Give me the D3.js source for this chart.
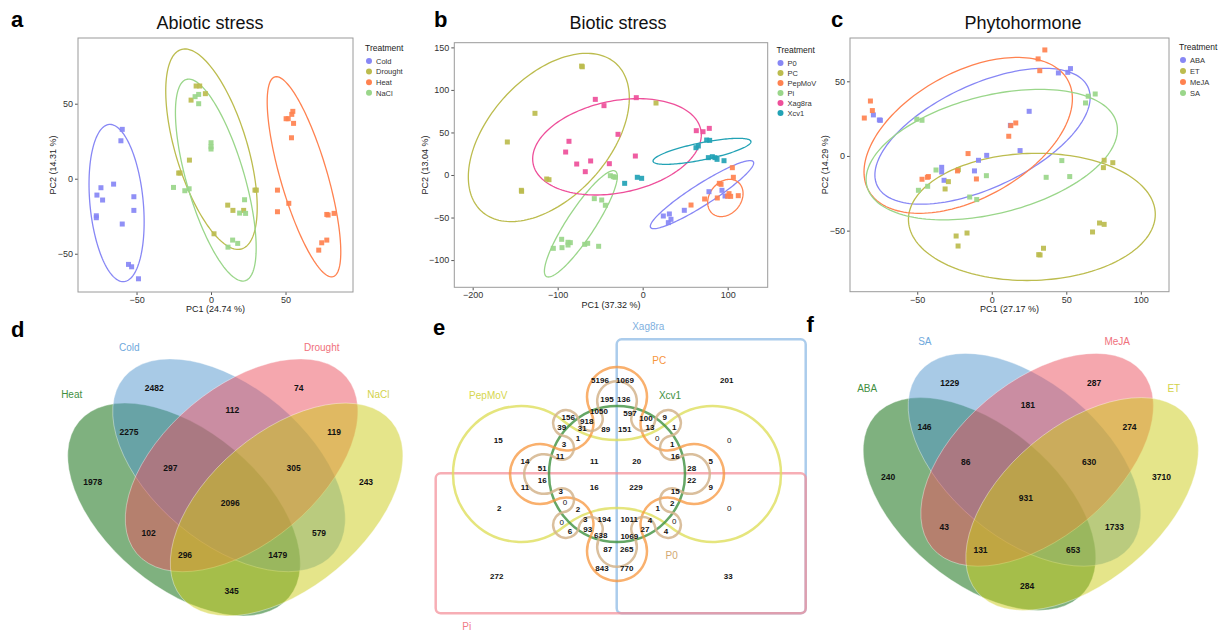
<!DOCTYPE html>
<html>
<head>
<meta charset="utf-8">
<script src="https://cdn.jsdelivr.net/npm/d3@7"></script>
<style>
  body { margin: 0; background: #fff; }
  svg { font-family: "Liberation Sans", Arial, Helvetica, sans-serif; }
</style>
</head>
<body>
<svg id="fig" width="1220" height="631"></svg>
<script>
// ---------- data: PCA panels ----------
// each point is [PC1, PC2]; ellipses are [cx, cy, rx, ry, tilt] in data units
const abioticGroups = ["Cold", "Drought", "Heat", "NaCl"];
const coldPts = [[-59.6,32.9],[-60.5,25.3],[-65.4,-3.6],[-73.9,-6],[-76.6,-10.9],[-72.8,-14.2],[-77,-24.7],[-77,-26],[-59.6,-30.2],[-51.8,-12],[-51.8,-21.1],[-55.4,-57.1],[-53.3,-58.7],[-48.7,-66.7]];
const droughtPts = [[-14.5,12.4],[-21.7,3.8],[-20.8,3.8],[-13.4,52.4],[-10,61.8],[-7.6,61.8],[-3.8,56.7],[29.5,-7.6],[30.4,-7.6],[11.2,-17.6],[14.7,-21.1],[21.9,-21.1],[2,-36.7]];
const heatPts = [[50.4,40],[51.8,40],[54.2,42.9],[54.9,44.9],[55.4,36.9],[54,27.3],[44.6,-7.6],[44.6,-22],[52.2,-16.4],[77.7,-23.8],[78.6,-24.2],[82.6,-23.1],[74.3,-42.7],[77.7,-40.9],[72.3,-47.6]];
const naclPts = [[-10.7,54.7],[-8.3,56.2],[-8.3,50],[0,24],[0,21.3],[0,19.8],[-25.2,-5.8],[-17.6,-8],[-14.7,-6.7],[22.5,-14],[19.2,-22.9],[23.2,-23.1],[14.5,-40.9],[17.9,-43.1],[11.4,-45.6]];
const abioticEllipses = [[-63.4,-16.2,18.5,52.4,-0.24],[0.3,19.7,30.7,66.8,-0.58],[62.4,1.3,24.7,66.7,-0.75],[3.2,-0.9,27.1,67.3,-0.67]];

const bioticGroups = ["P0", "PC", "PepMoV", "Pi", "Xag8ra", "Xcv1"];
const p0Pts = [[24.3,-48.2],[31.4,-45.8],[33.3,-52.1],[30.2,-56],[49,-41.5],[78,-19.6],[93.3,-18],[96.9,-24.7]];
const pcPts = [[-71.8,128],[-71,127.2],[-126.7,72.5],[-159.2,38.8],[-142.7,-18],[-142.4,-19.2],[-112.9,-4.7],[-110.2,-5.5],[15.7,84.6]];
const pepmovPts = [[56.9,-35.3],[72.9,-28.2],[87.8,-27],[90.2,-9.8],[92.2,-11],[101.6,-21.9],[103.5,-25.1],[105.5,8.6],[106.7,-2.7],[112.5,-24.3],[100,-25]];
const piPts = [[-38,-0.8],[-34.5,-2],[-32.5,-2.7],[-56.9,-27.8],[-48.2,-29.4],[-43.9,-35.6],[-95.3,-75.6],[-105.1,-86.2],[-94.9,-85.4],[-87.8,-79.1],[-85.1,-79.5],[-87.8,-82.3],[-68.2,-81.5],[-64.7,-80.3],[-51.8,-83.8]];
const xag8raPts = [[-55.7,88.9],[-45.5,81.5],[-7.5,90.9],[-29,47.8],[-86.7,39.6],[-90.6,27],[-77.6,12.9],[-67.5,3.9],[-61.2,16.5],[-39.2,13.3],[-8.6,22.3],[63.1,52.1],[71,50.9],[78.4,54.8]];
const xcv1Pts = [[62.7,32.1],[65.5,34.1],[75.3,41.1],[78.8,40.7],[77.3,20.4],[82,21.5],[85.1,20.4],[87.5,18.4],[95.7,16.8],[-6.3,-2.7],[-1.2,-3.9],[-21.2,-9.8]];
const bioticEllipses = [[69.8,-23.1,60.8,40,0.93],[-110.4,44.1,94.7,98.9,0.47],[97.3,-27,20.8,21.9,0.24],[-72.7,-57.4,42.9,62.5,0.89],[-30.2,33.1,99.2,56.6,0.25],[69.8,27.8,57.6,15.3,0.74]];

const hormoneGroups = ["ABA", "ET", "MeJA", "SA"];
const abaPts = [[-79.4,27.5],[-75.4,24.1],[-74.7,23.9],[25.1,29.9],[44.7,55.6],[51,56],[52.8,58.5],[12.5,20.5],[19,3.6],[-3.4,0.4],[-8.9,-2.9],[-11.6,-10],[-33.6,-7.6],[-33.6,-10.7],[-32,-16.3]];
const etPts = [[75.4,-2.9],[81.2,-4.5],[74.9,-7.8],[-22.4,-9.2],[-29.1,-17.2],[-31.3,-22.1],[-23.9,-53.6],[-16.6,-51.6],[-22.6,-60.3],[72.3,-44.9],[75.4,-45.8],[67.6,-50.9],[34.7,-61.8],[31.5,-66.1],[32.4,-66.3]];
const mejaPts = [[-85.5,25.4],[-81.4,36.8],[-80.1,30.4],[31.1,65],[35.6,71],[32.2,57.1],[16.1,22.1],[12.8,20.3],[11.4,13.2],[-15.9,1.6],[-23,-10],[-42.5,-13.8],[-43.2,-14.3],[-46.8,-15.6],[-10.3,-15.4]];
const saPts = [[-50.3,24.6],[-46.8,23.9],[69.4,41.5],[64.7,40],[62.9,35.5],[-37.4,-9.4],[-43,-20.3],[-49.2,-23],[-3.6,-13.2],[-14.8,-27.5],[-10.1,-29.2],[36.5,-14.3],[52.3,-13.8],[47,-3.1]];
const hormoneEllipses = [[-6.2,13.2,72.2,45.5,0.57],[26.9,-40.8,82.8,42.6,0.04],[-15.8,13.8,69.9,52.2,0.47],[0,0.9,84.3,43.7,0.38]];

// ---------- data: Venn panels ----------
const abioticVennSets = ["Heat", "Cold", "Drought", "NaCl"];
const abioticVennCounts = [2482, 74, 112, 2275, 119, 1978, 297, 305, 243, 2096, 102, 579, 296, 1479, 345];
const hormoneVennSets = ["ABA", "SA", "MeJA", "ET"];
const hormoneVennCounts = [1229, 287, 181, 146, 274, 240, 86, 630, 3710, 931, 43, 1733, 131, 653, 284];

const bioticVennSets = ["Xag8ra", "Pi", "PepMoV", "PC", "Xcv1", "P0"];
const bioticVennCounts = [5196,1069,201,195,136,15,0,156,918,1050,597,100,9,39,31,89,151,13,1,3,1,0,1,14,51,11,11,20,16,28,5,11,16,16,229,22,9,3,15,2,0,2,1,2,0,3,194,1011,4,0,0,6,93,638,1069,27,4,87,265,843,770,272,33];

// ---------- layout & style ----------
const svg = d3.select("#fig");
const cBlue = "#8787f5", cOlive = "#bcbc4e", cCoral = "#ff8250", cGreen = "#9ad68a", cPink = "#ee4f9a", cTeal = "#22a2b5";

function drawPCA(cfg) {
  const g = svg.append("g");
  const [x0, x1, y0, y1] = cfg.box;
  const x = d3.scaleLinear().domain(cfg.xDomain).range([x0, x1]);
  const y = d3.scaleLinear().domain(cfg.yDomain).range([y1, y0]);

  const ax = g.append("g").attr("transform", `translate(0,${y1})`)
    .call(d3.axisBottom(x).tickValues(cfg.xTicks).tickSize(3).tickPadding(1.5));
  const ay = g.append("g").attr("transform", `translate(${x0},0)`)
    .call(d3.axisLeft(y).tickValues(cfg.yTicks).tickSize(3).tickPadding(2));
  [ax, ay].forEach(a => {
    a.select(".domain").remove();
    a.selectAll("line").attr("stroke", "#555");
    a.selectAll("text").attr("font-size", 9).attr("fill", "#333").attr("font-family", null);
  });
  g.append("rect").attr("x", x0).attr("y", y0).attr("width", x1 - x0).attr("height", y1 - y0)
    .attr("fill", "none").attr("stroke", "#9a9a9a").attr("stroke-width", 1);

  const line = d3.line().curve(d3.curveLinearClosed);
  cfg.ellipses.forEach(([cx, cy, rx, ry, s], i) => {
    const phi = Math.asin(s);
    const pts = d3.range(160).map(k => {
      const t = k / 160 * 2 * Math.PI;
      return [x(cx + rx * Math.cos(t)), y(cy + ry * Math.sin(t + phi))];
    });
    g.append("path").attr("d", line(pts)).attr("fill", "none")
      .attr("stroke", cfg.colors[i]).attr("stroke-width", 1.3);
  });
  cfg.points.forEach((pts, i) => {
    g.append("g").selectAll("rect").data(pts).join("rect")
      .attr("x", d => x(d[0]) - 2.5).attr("y", d => y(d[1]) - 2.5)
      .attr("width", 5).attr("height", 5)
      .attr("fill", cfg.colors[i]).attr("opacity", 0.92);
  });

  g.append("text").attr("x", (x0 + x1) / 2).attr("y", cfg.xLabelY).attr("text-anchor", "middle")
    .attr("font-size", 9).attr("fill", "#222").text(cfg.xLabel);
  g.append("text").attr("transform", `translate(${cfg.yLabelX},${(y0 + y1) / 2}) rotate(-90)`)
    .attr("text-anchor", "middle").attr("font-size", 9).attr("fill", "#222").text(cfg.yLabel);
  g.append("text").attr("x", cfg.titleX).attr("y", 29).attr("text-anchor", "middle")
    .attr("font-size", 18).attr("fill", "#111").text(cfg.title);
  g.append("text").attr("x", cfg.letterX).attr("y", 27).attr("font-size", 22)
    .attr("font-weight", "bold").text(cfg.letter);

  const [lx, ly, step] = cfg.legend;
  g.append("text").attr("x", lx).attr("y", ly).attr("font-size", 8.5).attr("fill", "#222").text("Treatment");
  cfg.groups.forEach((name, i) => {
    const cy = ly + 10 + i * step;
    g.append("circle").attr("cx", lx + 4).attr("cy", cy).attr("r", 3).attr("fill", cfg.colors[i]);
    g.append("text").attr("x", lx + 11).attr("y", cy + 2.8).attr("font-size", 7.5).attr("fill", "#333").text(name);
  });
}

drawPCA({
  letter: "a", letterX: 11, title: "Abiotic stress", titleX: 210,
  box: [78, 353, 38, 292], xDomain: [-89.3, 95.3], yDomain: [-75.5, 93.8],
  xTicks: [-50, 0, 50], yTicks: [-50, 0, 50],
  xLabel: "PC1 (24.74 %)", yLabel: "PC2 (14.31 %)", xLabelY: 312, yLabelX: 56,
  groups: abioticGroups, colors: [cBlue, cOlive, cCoral, cGreen],
  points: [coldPts, droughtPts, heatPts, naclPts], ellipses: abioticEllipses,
  legend: [365, 51, 10.6]
});
drawPCA({
  letter: "b", letterX: 434, title: "Biotic stress", titleX: 618,
  box: [454.3, 767.7, 42.7, 287.3], xDomain: [-221.6, 147.1], yDomain: [-132, 155.5],
  xTicks: [-200, -100, 0, 100], yTicks: [-100, -50, 0, 50, 100, 150],
  xLabel: "PC1 (37.32 %)", yLabel: "PC2 (13.04 %)", xLabelY: 307.5, yLabelX: 428,
  groups: bioticGroups, colors: [cBlue, cOlive, cCoral, cGreen, cPink, cTeal],
  points: [p0Pts, pcPts, pepmovPts, piPts, xag8raPts, xcv1Pts], ellipses: bioticEllipses,
  legend: [776.5, 53, 10]
});
drawPCA({
  letter: "c", letterX: 831, title: "Phytohormone", titleX: 1023,
  box: [850, 1169, 38, 291.7], xDomain: [-95.1, 118.9], yDomain: [-90.9, 79],
  xTicks: [-50, 0, 50, 100], yTicks: [-50, 0, 50],
  xLabel: "PC1 (27.17 %)", yLabel: "PC2 (14.29 %)", xLabelY: 312, yLabelX: 828,
  groups: hormoneGroups, colors: [cBlue, cOlive, cCoral, cGreen],
  points: [abaPts, etPts, mejaPts, saPts], ellipses: hormoneEllipses,
  legend: [1179, 50, 11]
});

// ---------- 4-set Venn (d, f) ----------
const vennA = 137, vennB = 78;
const vennShapes = [
  { cx: 184, cy: 509.5, rot: 40 }, { cx: 229, cy: 465.3, rot: 40 },
  { cx: 241.6, cy: 465.3, rot: -40 }, { cx: 286.6, cy: 509.5, rot: -40 }
];
const vennFill = ["#006400", "#5195cd", "#eb4f5d", "#cbcb15"];
const vennLabelColor = ["#3f8f3f", "#6ea8dc", "#f0707c", "#d2d24a"];
const vennSetLabelPos = [[71.7, 394.3], [129.3, 347.3], [321.7, 347.3], [378.3, 394.3]];
const vennCountPos = [[154.3,388],[298.7,388],[232.3,410],[129,432],[334,432],[92.7,482.3],[170.3,467.7],[293.7,467.7],[366,482.3],[230.3,503.3],[148.7,532.7],[319,532.7],[185,555],[277.7,555],[231.7,591]];

function drawVenn4(dx, dy, sets, counts, letter) {
  const g = svg.append("g").attr("transform", `translate(${dx},${dy})`);
  vennShapes.forEach((s, i) => {
    g.append("ellipse").attr("cx", s.cx).attr("cy", s.cy).attr("rx", vennA).attr("ry", vennB)
      .attr("transform", `rotate(${s.rot},${s.cx},${s.cy})`)
      .attr("fill", vennFill[i]).attr("fill-opacity", 0.5)
      .attr("stroke", "#fff").attr("stroke-opacity", 0.6).attr("stroke-width", 0.6);
  });
  g.selectAll(".cnt").data(counts).join("text")
    .attr("x", (d, i) => vennCountPos[i][0]).attr("y", (d, i) => vennCountPos[i][1] + 3)
    .attr("text-anchor", "middle").attr("font-size", 8.5).attr("font-weight", "bold")
    .attr("fill", "#111").text(d => d);
  g.selectAll(".set").data(sets).join("text")
    .attr("x", (d, i) => vennSetLabelPos[i][0]).attr("y", (d, i) => vennSetLabelPos[i][1] + 3.5)
    .attr("text-anchor", "middle").attr("font-size", 10)
    .attr("fill", (d, i) => vennLabelColor[i]).text(d => d);
  svg.append("text").attr("x", 11 + dx).attr("y", 337 + dy).attr("font-size", 22)
    .attr("font-weight", "bold").text(letter);
}
drawVenn4(0, 0, abioticVennSets, abioticVennCounts, "d");
drawVenn4(795.5, -5.5, hormoneVennSets, hormoneVennCounts, "f");

// ---------- 6-set Edwards-style Venn (e) ----------
const C = [617, 474];
const pos = (deg, D) => [C[0] + D * Math.cos(deg * Math.PI / 180), C[1] - D * Math.sin(deg * Math.PI / 180)];

// closed curve made of tangent circle arcs; outer arcs bulge out, inner ones bulge towards C
function chainPath(circles) {
  const n = circles.length;
  const sw = circles.map((c, i) => {
    const d = circles[(i + 1) % n], k = c.r / (c.r + d.r);
    return [c.x + (d.x - c.x) * k, c.y + (d.y - c.y) * k];
  });
  let p = `M${sw[n - 1][0]},${sw[n - 1][1]}`;
  circles.forEach((c, i) => {
    const a = sw[(i + n - 1) % n], b = sw[i];
    const a0 = Math.atan2(a[1] - c.y, a[0] - c.x), a1 = Math.atan2(b[1] - c.y, b[0] - c.x);
    let span = c.inner ? a1 - a0 : a0 - a1;
    span = ((span % (2 * Math.PI)) + 2 * Math.PI) % (2 * Math.PI);
    p += `A${c.r},${c.r} 0 ${span > Math.PI ? 1 : 0} ${c.inner ? 1 : 0} ${b[0]},${b[1]}`;
  });
  return p + "Z";
}
const circ = (deg, D, r, inner) => { const q = pos(deg, D); return { x: q[0], y: q[1], r, inner }; };

// PepMoV: two side lobes joined by two arcs
const pmL = 96, pmR = 68, pmM = 34;
const pmH = (pmL * pmL - (pmR - pmM) ** 2) / (2 * (pmR - pmM));
const pepmovShape = [circ(0, pmL, pmR, false), circ(90, pmH, pmH - pmM, true),
                     circ(180, pmL, pmR, false), circ(270, pmH, pmH - pmM, true)];
// PC: four lobes joined by inward arcs
const pcD = 77, pcR = 30, pcM = 44.5;
const pcDc = (pcD * pcD - (pcR - pcM) ** 2) / (Math.SQRT2 * pcD + 2 * (pcR - pcM));
const pcShape = [];
[0, 90, 180, 270].forEach(a => {
  pcShape.push(circ(a, pcD, pcR, false));
  pcShape.push(circ(a + 45, pcDc, pcDc - pcM, true));
});
// P0: chain of sixteen small rings
const p0Alpha = 25.5, p0Dc = 73, p0Di = 61, p0Dd = 72, p0Ri = 12;
const dist = (p, q) => Math.hypot(p[0] - q[0], p[1] - q[1]);
const p0Rc = dist(pos(0, p0Dc), pos(p0Alpha, p0Di)) - p0Ri;
const p0Rd = dist(pos(45, p0Dd), pos(p0Alpha, p0Di)) - p0Ri;
const p0Shape = [];
[0, 90, 180, 270].forEach(a => {
  p0Shape.push(circ(a, p0Dc, p0Rc, false));
  p0Shape.push(circ(a + p0Alpha, p0Di, p0Ri, true));
  p0Shape.push(circ(a + 45, p0Dd, p0Rd, false));
  p0Shape.push(circ(a + 90 - p0Alpha, p0Di, p0Ri, true));
});

const ge = svg.append("g");
ge.append("rect").attr("x", 616.7).attr("y", 339.3).attr("width", 189).attr("height", 274).attr("rx", 5)
  .attr("fill", "none").attr("stroke", "#8fbbe6").attr("stroke-opacity", 0.75).attr("stroke-width", 2.5);
ge.append("rect").attr("x", 435.7).attr("y", 473.3).attr("width", 370).attr("height", 140).attr("rx", 5)
  .attr("fill", "none").attr("stroke", "#f38c95").attr("stroke-opacity", 0.7).attr("stroke-width", 2.5);
ge.append("path").attr("d", chainPath(pepmovShape)).attr("fill", "none")
  .attr("stroke", "#dede5c").attr("stroke-opacity", 0.8).attr("stroke-width", 2.5);
ge.append("circle").attr("cx", C[0]).attr("cy", C[1]).attr("r", 68).attr("fill", "none")
  .attr("stroke", "#3f913f").attr("stroke-opacity", 0.8).attr("stroke-width", 2.5);
ge.append("path").attr("d", chainPath(pcShape)).attr("fill", "none")
  .attr("stroke", "#f7953c").attr("stroke-opacity", 0.75).attr("stroke-width", 2.5);
ge.append("path").attr("d", chainPath(p0Shape)).attr("fill", "none")
  .attr("stroke", "#d4b48c").attr("stroke-opacity", 0.85).attr("stroke-width", 2.5);

const eSetLabelPos = [[648.3, 326], [466.7, 626], [488.3, 395], [659.3, 360.7], [670, 395], [671.7, 555]];
const eSetLabelColor = ["#7fb0e0", "#f07a86", "#d6d64e", "#f7953c", "#3f913f", "#d2a870"];
const eCountPos = [[600,380],[625,380],[726.7,380],[607,399],[623.7,399],[498.3,440],[729.3,440],[568.3,417.3],[586.7,420.5],[599,411],[630,413.3],[646,418.3],[664.7,417.3],[561.7,426.7],[582.3,428],[605.7,428.7],[624.7,428.7],[650,427.3],[674.3,426.7],[564,444],[578,438.3],[657.3,438.3],[672.3,444],[525,461],[542.3,467.7],[560,455.7],[594.3,461],[636.7,461],[675.3,455.7],[691.7,467.7],[710.7,460.7],[525,486.7],[542.3,480],[594.3,486.7],[636,486.7],[691.7,480],[710.7,486.7],[560.7,491],[675.3,491],[499.3,507.7],[565,502.3],[578,509.3],[657.7,507.7],[672.3,502.7],[729.3,507.7],[585.3,519.3],[604.3,519.3],[629.3,519.3],[650,520],[561.7,521.7],[674.3,520.7],[570,530.7],[587.7,529.3],[600.7,535],[629.3,536],[645,529.3],[666,531],[607.7,549.3],[626.7,549.3],[602,567.7],[626.7,567.7],[496.7,576],[728.3,576]];
ge.selectAll(".cnt").data(bioticVennCounts).join("text")
  .attr("x", (d, i) => eCountPos[i][0]).attr("y", (d, i) => eCountPos[i][1] + 3)
  .attr("text-anchor", "middle").attr("font-size", 8)
  .attr("font-weight", d => d === 0 ? "normal" : "bold").attr("fill", "#111").text(d => d);
ge.selectAll(".set").data(bioticVennSets).join("text")
  .attr("x", (d, i) => eSetLabelPos[i][0]).attr("y", (d, i) => eSetLabelPos[i][1] + 3.5)
  .attr("text-anchor", "middle").attr("font-size", 10)
  .attr("fill", (d, i) => eSetLabelColor[i]).text(d => d);
svg.append("text").attr("x", 433).attr("y", 335).attr("font-size", 22).attr("font-weight", "bold").text("e");
</script>
</body>
</html>
